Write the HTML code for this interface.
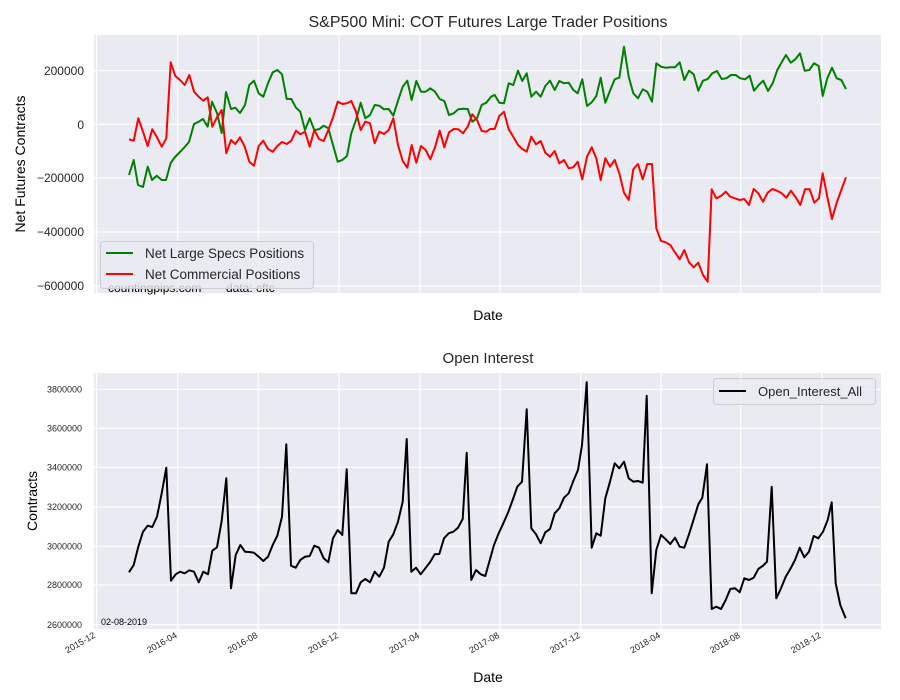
<!DOCTYPE html>
<html><head><meta charset="utf-8"><style>body{margin:0;background:#fff}svg{display:block}text{font-family:"Liberation Sans","DejaVu Sans",sans-serif}</style></head><body>
<svg width="900" height="700" viewBox="0 0 900 700" xmlns="http://www.w3.org/2000/svg">
<rect width="900" height="700" fill="#fff"/>
<!-- top axes -->
<rect x="94" y="35" width="787" height="258" fill="#EAEAF2"/>
<g stroke="#fff" stroke-width="1.2">
<line x1="94" x2="881" y1="70.7" y2="70.7"/><line x1="94" x2="881" y1="124.3" y2="124.3"/><line x1="94" x2="881" y1="178" y2="178"/><line x1="94" x2="881" y1="232" y2="232"/><line x1="94" x2="881" y1="286" y2="286"/>
<line x1="96.5" x2="96.5" y1="35" y2="293"/><line x1="177.7" x2="177.7" y1="35" y2="293"/><line x1="258.3" x2="258.3" y1="35" y2="293"/><line x1="339" x2="339" y1="35" y2="293"/><line x1="420" x2="420" y1="35" y2="293"/><line x1="500" x2="500" y1="35" y2="293"/><line x1="580.7" x2="580.7" y1="35" y2="293"/><line x1="661" x2="661" y1="35" y2="293"/><line x1="740.7" x2="740.7" y1="35" y2="293"/><line x1="821.7" x2="821.7" y1="35" y2="293"/>
</g>
<text x="488" y="27" font-size="16" text-anchor="middle" fill="#262626">S&amp;P500 Mini: COT Futures Large Trader Positions</text>
<g font-size="12" fill="#262626" text-anchor="end">
<text x="84" y="75">200000</text><text x="84" y="129">0</text><text x="84" y="182">−200000</text><text x="84" y="236">−400000</text><text x="84" y="290">−600000</text>
</g>
<text transform="translate(25,164) rotate(-90)" font-size="14" text-anchor="middle" fill="#000">Net Futures Contracts</text>
<text x="488" y="320" font-size="14" text-anchor="middle" fill="#000">Date</text>
<polyline fill="none" stroke="#008000" stroke-width="2" stroke-linejoin="round" points="129,175 133.7,160 138,185 143,187 147.7,166.7 152,180 156.7,175.7 161.7,180 166,180 170.7,163 175,157 180,152 184.7,147 189,142 194,124 198.7,121.7 203,119 207.7,126.7 212,101.7 217,113 221.7,133 226,92 231,109 235.3,107.7 240,113 245,105 249.3,85 254,80.7 258.7,93.3 263.3,96.7 268,83.3 272.7,72.3 277.3,70 282,74.3 286.7,99 291.3,99 296,107.7 300.3,111.7 305,130 309.7,118.3 314.3,130 319,129.3 323.7,125.7 328.3,128.3 333,145 337.7,161.7 342.3,160 347,156 351.3,133.3 356,120 360.7,102.7 365.3,118.3 370,115 374.7,105 379.3,105.7 384,109.3 388.7,109 393.3,115.7 398,100.7 402.7,86.7 407.3,80.7 411.7,100 416.3,81 421,91.7 425.7,91.7 430.3,88.3 435,91.7 439.7,99 444.3,101 449,115 453.7,113.3 458.3,109.3 463,108.7 467.7,109 472.3,121.7 477,118.3 481.7,105 486.3,102.7 491,96.7 494.7,95 499.3,102.7 504,103.3 508.7,83.3 513.3,85 518,70.7 522.3,81 526.7,73.3 531.3,96.7 536,91.7 540.7,96.7 545.3,86 550,80.7 554.7,90 559.3,81 564,83.3 568.7,82.7 573.3,90 577.7,93.3 582.3,79.3 587,106 591.7,102.3 596.3,96 600.7,77.7 605.3,102.7 610,90.7 614.7,79.3 619.3,77.7 624,46.7 628.7,76.7 633.3,93.3 638,98.3 642.7,89.3 647.3,91.7 652,101.7 656.3,63.3 661,66.7 665.7,67.7 670.3,67.3 675,67.3 679.7,62.3 684.3,80 689,70.7 693.7,74.3 698.3,90.7 703,80.7 707.7,79 712.3,73.3 717,71 721.7,79 726.3,78.3 731,75 735.7,75 740.3,78.3 745,79.3 749.7,75.7 754,90.7 758.7,85 763.3,80.7 768,91 772.7,83.3 777.3,70 782,61.7 786,55 790.7,62.7 795.3,59.3 800,53.3 804.7,70.7 809.3,70 814,63.3 818.7,66 822.7,96 827.3,78.3 832,67.7 836.7,78.3 841.3,80 846,89"/>
<polyline fill="none" stroke="#ff0000" stroke-width="2" stroke-linejoin="round" points="129,139.3 133.7,140.7 138.3,118.3 143,131.7 147.7,146 152.3,129.3 157,137.3 161.7,146.7 166.3,138.3 170.7,62.3 175.3,76 180,80 184.7,85 189.3,75 194,91.7 198.7,96.7 203.3,100.7 207.7,97.3 212.3,126.7 217,117.3 221.7,110 226.3,153.3 231,140 235.3,144 240,137.3 244.7,146.7 249.3,161.7 254,165.7 258.7,146 263.3,140.7 268,149 272.7,151.7 277.3,146 282,142 286.7,144 291.3,140.7 296,130.7 300.3,134.3 305,131.7 309.7,146.7 314.3,130 319,139 323.7,141 328.3,130 333,117.3 337.7,101.7 342.3,104 347,103.3 351.3,101 356,111.7 360.7,130 365.3,121.7 370,123.3 374.7,143.3 379.3,131.7 384,134 388.7,130 393.3,118.3 398,145 402.7,161 407.3,167.7 411.7,145 416.3,162.7 421,146 425.7,150 430.3,159.3 435,147.3 439.7,130.7 444.3,147.3 449,132.3 453.7,129 458.3,129.3 463,133.3 467.7,126.7 472.3,114.3 477,120 481.7,131 486.3,131.7 490,129 494.7,129 499.3,116 504,111.7 508.7,129.3 513.3,136.7 518,145 522.3,149 526.7,151.7 531.3,136.7 536,144.3 540.7,141 545.3,152.7 550,156.7 554.7,151 559.3,163.3 564,160 568.7,168.3 573.3,167.3 577.7,161.7 582.3,179.3 587,156.7 591.7,147.3 596.3,158.3 600.7,180 605.3,158.3 610,166.7 614.7,160 619.3,173.3 624,192.7 628.7,200 633.3,169.3 638,164 642.7,179.3 647.3,164 652,164 656.3,228.3 661,241 665.7,242.3 670.3,245 675,252.3 679.7,259.3 684.3,250 689,262.3 693.7,267.3 698.3,262.7 703,275 707.7,281.7 711.7,189.3 716.3,198.3 721,196 725.7,191.7 730.3,196.7 735,198.3 739.7,200 744.3,199 749,205 753.7,189 758.3,193.3 763,201.7 767.7,192.7 772.3,189 777,190.7 781.7,193.3 786.3,197.7 791,190.7 795.7,197.3 800.3,205 805,189.3 809.7,189.3 814.3,202.7 819,198.3 822.7,173.3 827.3,196.7 832,219 836.7,202.7 841.3,190 846,177.3"/>
<text x="108" y="292" font-size="12" fill="#000">countingpips.com</text>
<text x="226" y="292" font-size="12" fill="#000">data: cftc</text>
<rect x="100.5" y="241.5" width="213" height="47" rx="3" fill="#EAEAF2" fill-opacity="0.8" stroke="#ccc"/>
<line x1="106" x2="133" y1="253" y2="253" stroke="#008000" stroke-width="2"/>
<line x1="106" x2="133" y1="274" y2="274" stroke="#ff0000" stroke-width="2"/>
<text x="145" y="258" font-size="13.5" fill="#262626">Net Large Specs Positions</text>
<text x="145" y="279" font-size="13.5" fill="#262626">Net Commercial Positions</text>
<!-- bottom axes -->
<rect x="94" y="373" width="787" height="256" fill="#EAEAF2"/>
<g stroke="#fff" stroke-width="1.2">
<line x1="94" x2="881" y1="389.3" y2="389.3"/><line x1="94" x2="881" y1="428.3" y2="428.3"/><line x1="94" x2="881" y1="467.3" y2="467.3"/><line x1="94" x2="881" y1="507" y2="507"/><line x1="94" x2="881" y1="546.3" y2="546.3"/><line x1="94" x2="881" y1="585" y2="585"/><line x1="94" x2="881" y1="624.7" y2="624.7"/>
<line x1="96.5" x2="96.5" y1="373" y2="629"/><line x1="177.7" x2="177.7" y1="373" y2="629"/><line x1="258.3" x2="258.3" y1="373" y2="629"/><line x1="339" x2="339" y1="373" y2="629"/><line x1="420" x2="420" y1="373" y2="629"/><line x1="500" x2="500" y1="373" y2="629"/><line x1="580.7" x2="580.7" y1="373" y2="629"/><line x1="661" x2="661" y1="373" y2="629"/><line x1="740.7" x2="740.7" y1="373" y2="629"/><line x1="821.7" x2="821.7" y1="373" y2="629"/>
</g>
<text x="488" y="363" font-size="15" text-anchor="middle" fill="#262626">Open Interest</text>
<g font-size="9" fill="#262626" text-anchor="end">
<text x="82" y="392.5">3800000</text><text x="82" y="431.5">3600000</text><text x="82" y="470.5">3400000</text><text x="82" y="510">3200000</text><text x="82" y="549.5">3000000</text><text x="82" y="588">2800000</text><text x="82" y="628">2600000</text>
</g>
<text transform="translate(37,501) rotate(-90)" font-size="14" text-anchor="middle" fill="#000">Contracts</text>
<g font-size="9" fill="#262626" text-anchor="end">
<text transform="translate(96,637) rotate(-30)">2015-12</text>
<text transform="translate(177.7,637) rotate(-30)">2016-04</text>
<text transform="translate(258.3,637) rotate(-30)">2016-08</text>
<text transform="translate(339,637) rotate(-30)">2016-12</text>
<text transform="translate(420,637) rotate(-30)">2017-04</text>
<text transform="translate(500,637) rotate(-30)">2017-08</text>
<text transform="translate(580.7,637) rotate(-30)">2017-12</text>
<text transform="translate(661,637) rotate(-30)">2018-04</text>
<text transform="translate(740.7,637) rotate(-30)">2018-08</text>
<text transform="translate(821.7,637) rotate(-30)">2018-12</text>
</g>
<text x="488" y="682" font-size="14" text-anchor="middle" fill="#000">Date</text>
<text x="101" y="625" font-size="9" fill="#000">02-08-2019</text>
<polyline fill="none" stroke="#000" stroke-width="2" stroke-linejoin="round" points="129,572.3 133.7,565 138.3,546.7 143,531.7 147.7,525.7 152.3,527 157,516.7 161.7,493.3 166.3,467.7 171,580.7 175.7,574.3 180,571.7 184.7,573.3 189.3,570.3 194,571.7 198.7,582.3 203.3,571.7 208,574.3 212.3,550.7 217,547.3 221.7,520.7 226.3,478.3 231,588.3 235.7,555 240.3,545 245,551.7 249.3,552 254,552.7 258.7,556.7 263.3,561 268,556.7 272.7,545 277.3,535.7 282,516.7 286.3,444.3 291,565.7 295.7,567.7 300.3,560 305,556.7 309.7,556 314.3,545.7 319,547.7 323.7,558.3 328.3,562.3 333,538.3 337.7,530 342.3,535 346.7,469.3 351.3,593.3 356,593.3 360.7,582.3 365.3,579 370,582.3 374.7,571.7 379.3,576.7 384,567.7 388.7,541.7 393.3,534.3 398,521.7 402.7,501.7 406.7,439 411.3,571.7 416,567.7 420.7,574.3 425.3,568.3 430,562.3 434.7,554.3 439.3,554 444,538.3 448.7,533.3 453.3,531.7 458,527.7 462.7,519 466.7,452.7 471.3,580 476,570 480.7,574.3 485.3,576 489.3,561.7 494,545 498.7,533.3 503.3,523.3 508,512.7 512.7,500 517.3,486.7 522,481.7 526.7,409.3 531.3,528.3 536,534.3 540.7,543.3 545.3,532.3 550,529 554.7,513.3 559.3,508.3 564,497.7 568.7,493.3 573.3,481 578,470 582,445 586.7,382.3 591.7,547.7 596.3,533.3 600.7,535.7 605.3,498.3 610,481.7 614.7,463.3 619.3,468.3 624,461.7 628.7,478.3 633.3,481.7 638,481 642.7,482.7 646.7,395.7 651.7,593.3 656.3,550 661,535 665.7,539.3 670.3,544 675,537.7 679.7,546.7 684.3,547.7 689,534.3 693.7,519.3 698.3,504.3 702.3,497.7 707,464.3 711.7,609 716.3,606.7 721,609 725.7,600 730.3,589 735,588.3 739.7,592.3 744.3,578.3 749,580 753.7,577.7 758.3,569 763,565.7 767,561.7 771.7,486.7 776.3,598.3 781,588.3 785.7,576.7 790.3,569 795,560 799.7,547.7 804.3,557.3 809,551.7 813.7,536 818.3,538.3 823,531.7 827.7,520 831.7,502.3 835.7,583.3 840.3,605 845.7,618.3"/>
<rect x="713.5" y="378.5" width="162" height="26" rx="3" fill="#EAEAF2" fill-opacity="0.8" stroke="#ccc"/>
<line x1="719" x2="746" y1="391" y2="391" stroke="#000" stroke-width="2"/>
<text x="758" y="396" font-size="13" fill="#262626">Open_Interest_All</text>
</svg>
</body></html>
